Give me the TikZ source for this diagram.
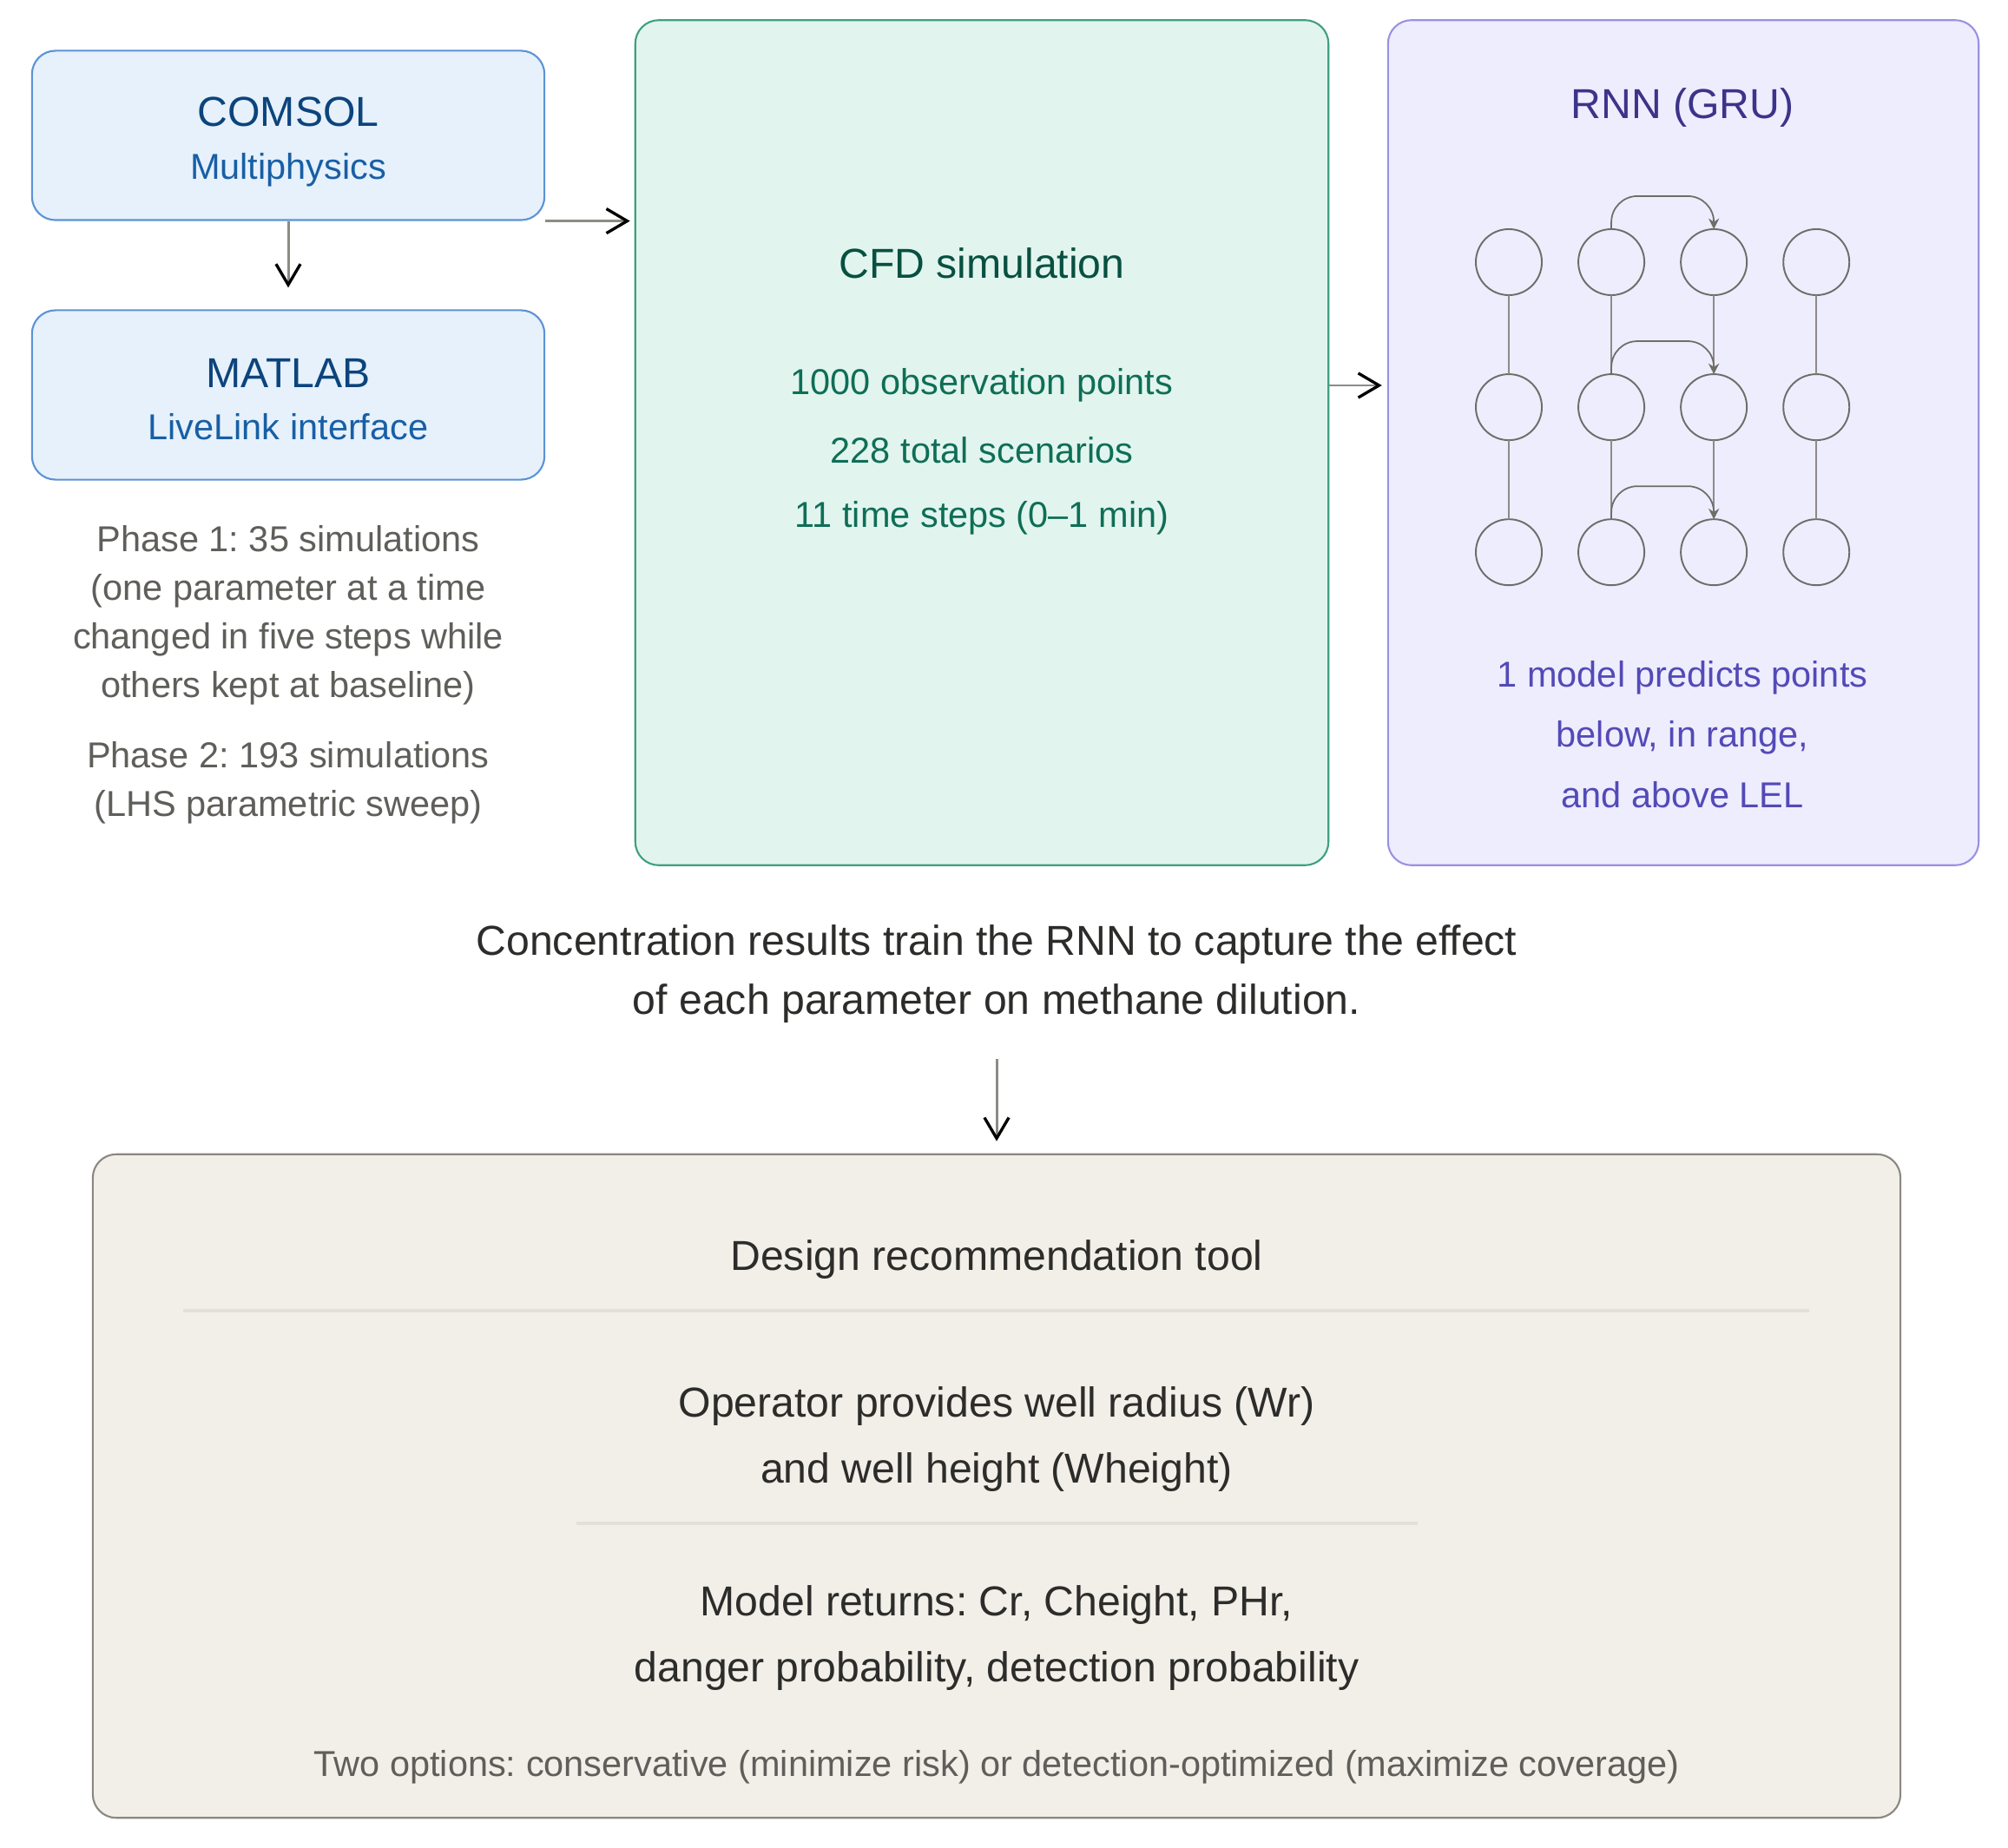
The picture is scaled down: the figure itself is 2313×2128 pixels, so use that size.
\documentclass[tikz,border=0pt]{standalone}
\usepackage{fontspec}
\setmainfont{Liberation Sans}
\usetikzlibrary{arrows.meta, positioning}
\definecolor{blueFill}{HTML}{E6F1FB}
\definecolor{blueLine}{HTML}{5B93D6}
\definecolor{blueDark}{HTML}{0C447C}
\definecolor{blueMid}{HTML}{185FA5}
\definecolor{tealFill}{HTML}{E1F5EE}
\definecolor{tealLine}{HTML}{3FA07F}
\definecolor{tealDark}{HTML}{085041}
\definecolor{tealMid}{HTML}{0F6E56}
\definecolor{violetFill}{HTML}{EEEDFE}
\definecolor{violetLine}{HTML}{9A91E2}
\definecolor{violetDark}{HTML}{3C3489}
\definecolor{violetMid}{HTML}{534AB7}
\definecolor{sandFill}{HTML}{F1EFE8}
\definecolor{sandLine}{HTML}{8A8880}
\definecolor{sandRule}{HTML}{E3E0D7}
\definecolor{inkDark}{HTML}{2C2C2A}
\definecolor{inkSoft}{HTML}{5F5E5A}
\definecolor{wireGray}{HTML}{8C8B86}
\definecolor{cellGray}{HTML}{6E6D68}
\frenchspacing

\begin{document}
\begin{tikzpicture}[
    x=0.01cm, y=-0.01cm,
    node distance=0.91cm and 0.42cm,
    bigtxt/.style={font=\fontsize{13.7}{19.6}\selectfont, align=center, inner sep=0pt},
    smalltxt/.style={font=\fontsize{11.8}{15.9}\selectfont, align=center, inner sep=0pt},
    panel/.style={rectangle, rounded corners=0.27cm, line width=0.6pt, inner sep=0pt},
    srcbox/.style={panel, draw=blueLine, fill=blueFill, minimum width=5.9cm, minimum height=1.95cm},
    simbox/.style={panel, draw=tealLine, fill=tealFill, minimum width=7.98cm, minimum height=9.73cm},
    rnnbox/.style={panel, draw=violetLine, fill=violetFill, minimum width=6.8cm, minimum height=9.73cm},
    toolbox/.style={panel, draw=sandLine, fill=sandFill, minimum width=20.81cm, minimum height=7.64cm},
    cell/.style={circle, draw=cellGray, line width=0.55pt, minimum size=0.76cm,
                 inner sep=0pt, outer sep=0pt},
    link/.style={draw=wireGray, line width=0.5pt},
    hop/.style={draw=cellGray, line width=0.5pt, rounded corners=0.3cm,
                -{Stealth[length=3.5pt, width=3.5pt]}},
    flow/.style={draw=wireGray, line width=0.85pt,
                 -{Straight Barb[length=6.8pt, width=8pt, color=black, line width=0.95pt]}},
    rule/.style={draw=sandRule, line width=0.9pt},
  ]
    \useasboundingbox (0,0) rectangle (2313,2128);

    % left column
    \node[srcbox] (comsol) at (332,156) {};
    \node[srcbox] (matlab) at (332,455) {};
    \node[bigtxt, text=blueDark] (comsolT) at (332,129) {COMSOL};
    \node[smalltxt, text=blueMid] (comsolS) at (332,196) {Multiphysics};
    \node[bigtxt, text=blueDark] (matlabT) at (332,430) {MATLAB};
    \node[smalltxt, text=blueMid] (matlabS) at (332,492) {LiveLink interface};
    \node[smalltxt, text=inkSoft] (phase1) at (332,709)
      {Phase 1: 35 simulations\\(one parameter at a time\\changed in five steps while\\others kept at baseline)};
    \node[smalltxt, text=inkSoft] (phase2) at (332,902)
      {Phase 2: 193 simulations\\(LHS parametric sweep)};

    % CFD panel
    \node[simbox] (cfd) at (1131,510) {};
    \node[bigtxt, text=tealDark] (cfdT) at (1131,303) {CFD simulation};
    \node[smalltxt, text=tealMid] (obs) at (1131,444) {1000 observation points};
    \node[smalltxt, text=tealMid] (scen) at (1131,519) {228 total scenarios};
    \node[smalltxt, text=tealMid] (steps) at (1131,597) {11 time steps (0--1 min)};

    % RNN panel
    \node[rnnbox] (rnn) at (1939,510) {};
    \node[bigtxt, text=violetDark] (rnnT) at (1938,124) {RNN (GRU)};
    \node[smalltxt, text=violetMid, font=\fontsize{11.8}{19.8}\selectfont] (rnnS) at (1938,846)
      {1 model predicts points\\below, in range,\\and above LEL};

    \node[cell] (c11) at (1738,302) {};
    \node[cell, right=of c11] (c12) {};
    \node[cell, right=of c12] (c13) {};
    \node[cell, right=of c13] (c14) {};
    \node[cell, below=of c11] (c21) {};
    \node[cell, right=of c21] (c22) {};
    \node[cell, right=of c22] (c23) {};
    \node[cell, right=of c23] (c24) {};
    \node[cell, below=of c21] (c31) {};
    \node[cell, right=of c31] (c32) {};
    \node[cell, right=of c32] (c33) {};
    \node[cell, right=of c33] (c34) {};

    \draw[link] (c11) -- (c21);
    \draw[link] (c21) -- (c31);
    \draw[link] (c12) -- (c22);
    \draw[link] (c22) -- (c32);
    \draw[link] (c13) -- (c23);
    \draw[link] (c23) -- (c33);
    \draw[link] (c14) -- (c24);
    \draw[link] (c24) -- (c34);

    \draw[hop] (c12.north) -- ++(0pt,0.38cm) -| (c13.north);
    \draw[hop] (c22.north) -- ++(0pt,0.38cm) -| (c23.north);
    \draw[hop] (c32.north) -- ++(0pt,0.38cm) -| (c33.north);

    % caption and tool
    \node[bigtxt, text=inkDark] (caption) at (1148,1122)
      {Concentration results train the RNN to capture the effect\\of each parameter on methane dilution.};
    \node[toolbox] (tool) at (1148,1712) {};
    \node[bigtxt, text=inkDark] (toolT) at (1148,1451) {Design recommendation tool};
    \draw[rule] (211,1510) -- (2084,1510);
    \node[bigtxt, text=inkDark, font=\fontsize{13.7}{21.6}\selectfont] (input) at (1148,1658)
      {Operator provides well radius (Wr)\\and well height (Wheight)};
    \draw[rule] (664,1755) -- (1633,1755);
    \node[bigtxt, text=inkDark, font=\fontsize{13.7}{21.8}\selectfont] (output) at (1148,1887)
      {Model returns: Cr, Cheight, PHr,\\danger probability, detection probability};
    \node[smalltxt, text=inkSoft] (options) at (1148,2036)
      {Two options: conservative (minimize risk) or detection-optimized (maximize coverage)};

    % flow arrows
    \draw[flow] (comsol) -- (matlab) [shorten >=0.25cm];
    \draw[flow, shorten >=0.05cm] (comsol.south east) -- (comsol.south east -| cfd.west);
    \draw[flow, shorten >=0.06cm] (obs -| cfd.east) -- (obs -| rnn.west);
    \draw[flow, shorten <=0.4cm, shorten >=0.14cm] (caption.south) -- (tool.north);
  \end{tikzpicture}
\end{document}
